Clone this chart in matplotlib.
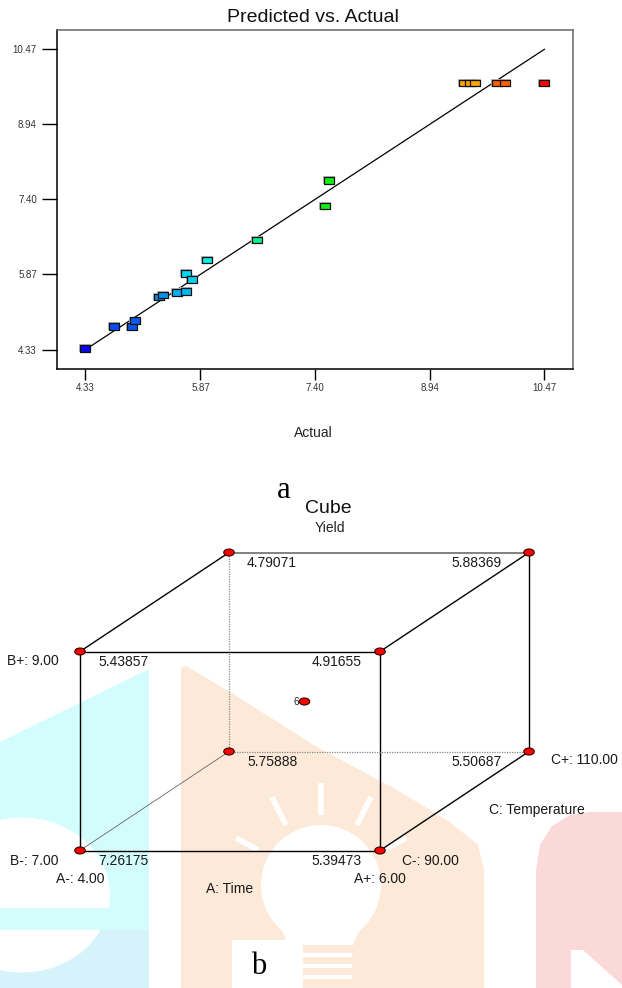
import matplotlib
matplotlib.use("Agg")
import matplotlib.pyplot as plt
from matplotlib.patches import Ellipse, Polygon, Circle, Rectangle

plt.rcParams['font.family'] = ['Liberation Sans', 'DejaVu Sans']
SERIF = ['Liberation Serif', 'DejaVu Serif']

# ---------------- data: Predicted vs. Actual ----------------
actual = [4.33, 4.71, 4.95, 5.00, 5.32, 5.37, 5.56, 5.67, 5.68, 5.76,
          5.96, 6.62, 7.59, 7.54, 9.40, 9.47, 9.54, 9.84, 9.95, 10.46]
predicted = [4.36, 4.81, 4.80, 4.92, 5.41, 5.45, 5.50, 5.52, 5.89, 5.77,
             6.16, 6.57, 7.79, 7.27, 9.78, 9.78, 9.78, 9.78, 9.78, 9.78]
point_colors = ['#0a0ae8', '#0a4cf2', '#0a55f0', '#0a5cf0', '#0a88e8', '#0a90e8',
                '#00b0f0', '#00b8f0', '#00d8f0', '#00d0f0', '#00f0e8', '#00f090',
                '#10f010', '#10f010', '#ffa500', '#ffa500', '#ffa500', '#ff6000',
                '#ff6000', '#ff0000']
axis_ticks = [4.33, 5.87, 7.40, 8.94, 10.47]
axis_tick_labels = ['4.33', '5.87', '7.40', '8.94', '10.47']
fit_line = [4.33, 10.47]

# ---------------- data: cube plot ----------------
factor_A = [-1, 1, -1, 1, -1, 1, -1, 1]
factor_B = [-1, -1, 1, 1, -1, -1, 1, 1]
factor_C = [-1, -1, -1, -1, 1, 1, 1, 1]
cube_yield = ['7.26175', '5.39473', '5.43857', '4.91655',
              '5.75888', '5.50687', '4.79071', '5.88369']
center_runs = '6'
level_labels = {'A-': 'A-: 4.00', 'A+': 'A+: 6.00', 'B-': 'B-: 7.00',
                'B+': 'B+: 9.00', 'C-': 'C-: 90.00', 'C+': 'C+: 110.00'}

W, H = 622, 988
fig = plt.figure(figsize=(W / 100, H / 100), dpi=100)

# background / cube axes in pixel units
bg = fig.add_axes([0, 0, 1, 1])
bg.set_xlim(0, W)
bg.set_ylim(H, 0)
bg.axis('off')

# ---- faint watermark shapes ----
bg.add_patch(Polygon([(0, 742), (147, 670), (149, 670), (149, H), (0, H)],
                     closed=True, fc='#d3fcfc', ec='none', zorder=0))
bg.add_patch(Rectangle((0, 930), 149, 58, fc='#d6f3fb', ec='none', zorder=0))
bg.add_patch(Ellipse((22, 895), 176, 155, fc='white', ec='none', zorder=0.5))
bg.add_patch(Rectangle((0, 908), 112, 22, fc='#d3fcfc', ec='none', zorder=0.6))
bg.add_patch(Polygon([(181, 668), (186, 666), (230, 692), (317, 747), (397, 790),
                      (450, 822), (478, 845), (484, 870), (484, H), (181, H)],
                     closed=True, fc='#fde9d8', ec='none', zorder=0))
bg.add_patch(Polygon([(536, 870), (540, 845), (552, 826), (570, 815), (590, 812),
                      (622, 812), (622, H), (536, H)],
                     closed=True, fc='#fcd9d9', ec='none', zorder=0))
bg.add_patch(Polygon([(571, 950), (583, 950), (622, 985), (622, H), (571, H)],
                     closed=True, fc='white', ec='none', zorder=0.5))
bg.add_patch(Circle((321, 885), 60, fc='white', ec='none', zorder=0.5))
bg.add_patch(Polygon([(270, 900), (372, 900), (353, 945), (288, 945)],
                     closed=True, fc='white', ec='none', zorder=0.5))
for (x0, y0, x1, y1) in [(321, 783, 321, 815), (272, 797, 286, 825), (371, 797, 357, 825),
                         (236, 838, 258, 850), (406, 838, 384, 850)]:
    bg.plot([x0, x1], [y0, y1], color='white', lw=4, solid_capstyle='butt', zorder=0.5)
for yy in (955, 966, 977):
    bg.plot([303, 350], [yy, yy], color='white', lw=3, zorder=0.5)
bg.add_patch(Rectangle((232, 940), 71, 48, fc='white', ec='none', zorder=0.7))

# ---- cube geometry (projection of coded levels) ----
def proj(a, b, c):
    return 304.5 + 150 * a + 74.5 * c, 701.5 - 99.5 * b - 49.5 * c

edges_solid = [((-1, -1, -1), (1, -1, -1)), ((-1, 1, -1), (1, 1, -1)),
               ((-1, -1, -1), (-1, 1, -1)), ((1, -1, -1), (1, 1, -1)),
               ((1, -1, 1), (1, 1, 1)), ((-1, 1, -1), (-1, 1, 1)),
               ((1, 1, -1), (1, 1, 1)), ((1, -1, -1), (1, -1, 1))]
for p, q in edges_solid:
    (x0, y0), (x1, y1) = proj(*p), proj(*q)
    bg.plot([x0, x1], [y0, y1], color='black', lw=1.0, zorder=2)
(x0, y0), (x1, y1) = proj(-1, 1, 1), proj(1, 1, 1)
bg.plot([x0, x1], [y0, y1], color='#777777', lw=1.3, zorder=2)
(x0, y0), (x1, y1) = proj(-1, -1, -1), proj(-1, -1, 1)
bg.plot([x0, x1], [y0, y1], color='#666666', lw=0.6, zorder=2)
for p, q in [((-1, -1, 1), (-1, 1, 1)), ((-1, -1, 1), (1, -1, 1))]:
    (x0, y0), (x1, y1) = proj(*p), proj(*q)
    bg.plot([x0, x1], [y0, y1], color='#888888', lw=0.9, ls=(0, (1, 1)), zorder=2)

for a, b, c, val in zip(factor_A, factor_B, factor_C, cube_yield):
    x, y = proj(a, b, c)
    bg.add_patch(Ellipse((x, y), 10.5, 7, fc='#ff0000', ec='#330000', lw=0.8, zorder=3))
    if a < 0:
        bg.text(x + 18, y + 10, val, ha='left', va='center', fontsize=10, color='#1a1a1a', zorder=4)
    else:
        off = 27 if c > 0 else 18
        bg.text(x - off, y + 10, val, ha='right', va='center', fontsize=10, color='#1a1a1a', zorder=4)

cx, cy = proj(0, 0, 0)
bg.add_patch(Ellipse((cx, cy), 10.5, 7, fc='#ff0000', ec='#330000', lw=0.8, zorder=3))
bg.text(cx - 6, cy, center_runs, ha='right', va='center', fontsize=7, color='#1a1a1a', zorder=4)

x, y = proj(-1, 1, -1)
bg.text(x - 21, y + 9, level_labels['B+'], ha='right', va='center', fontsize=10, color='#1a1a1a')
x, y = proj(-1, -1, -1)
bg.text(x - 21, y + 10, level_labels['B-'], ha='right', va='center', fontsize=10, color='#1a1a1a')
bg.text(x, y + 28, level_labels['A-'], ha='center', va='center', fontsize=10, color='#1a1a1a')
x, y = proj(1, -1, -1)
bg.text(x, y + 28, level_labels['A+'], ha='center', va='center', fontsize=10, color='#1a1a1a')
bg.text(x + 22, y + 10, level_labels['C-'], ha='left', va='center', fontsize=10, color='#1a1a1a')
x, y = proj(1, -1, 1)
bg.text(x + 22, y + 8, level_labels['C+'], ha='left', va='center', fontsize=10, color='#1a1a1a')
x, y = proj(0, -1, -1)
bg.text(x, y + 38, 'A: Time', ha='center', va='center', fontsize=10, color='#1a1a1a')
bg.text(489, 810, 'C: Temperature', ha='left', va='center', fontsize=10, color='#1a1a1a')

bg.text(328, 508, 'Cube', ha='center', va='center', fontsize=14, color='#111111')
bg.text(330, 528, 'Yield', ha='center', va='center', fontsize=10, color='#222222')
bg.text(284, 490, 'a', ha='center', va='center', fontsize=22, family=SERIF, color='black')
bg.text(259, 966, 'b', ha='center', va='center', fontsize=22, family=SERIF, color='black', zorder=5)
bg.text(313, 433, 'Actual', ha='center', va='center', fontsize=10, color='#222222')

# ---------------- Predicted vs Actual axes ----------------
ax = fig.add_axes([57 / W, 1 - 369 / H, (573 - 57) / W, (369 - 30) / H])
ax.set_xlim(3.951, 10.853)
ax.set_ylim(3.935, 10.865)
ax.plot(fit_line, fit_line, color='black', lw=0.9, zorder=2)
rect = [(-1.5, -1), (1.5, -1), (1.5, 1), (-1.5, 1), (-1.5, -1)]
ax.scatter(actual, predicted, marker=rect, s=8.4 ** 2, c='#bbbbbb', lw=0, zorder=3)
ax.scatter(actual, predicted, marker=rect, s=7.2 ** 2, c=point_colors, edgecolors='#111111',
           linewidths=0.9, zorder=4)
ax.set_xticks(axis_ticks)
ax.set_xticklabels(axis_tick_labels)
ax.set_yticks(axis_ticks)
ax.set_yticklabels(axis_tick_labels)
ax.tick_params(axis='x', direction='out', length=8, width=1, pad=2, labelsize=7, labelcolor='#333333')
ax.tick_params(axis='y', direction='out', length=11, width=1, pad=3.5, labelsize=7, labelcolor='#333333')
for s in ('left', 'bottom'):
    ax.spines[s].set_color('black')
    ax.spines[s].set_linewidth(1.1)
for s in ('top', 'right'):
    ax.spines[s].set_color('#666666')
    ax.spines[s].set_linewidth(1.1)
fig.text(313 / W, 1 - 18 / H, 'Predicted vs. Actual', ha='center', va='center', fontsize=14, color='#111111')

fig.savefig('out.png', dpi=100)
